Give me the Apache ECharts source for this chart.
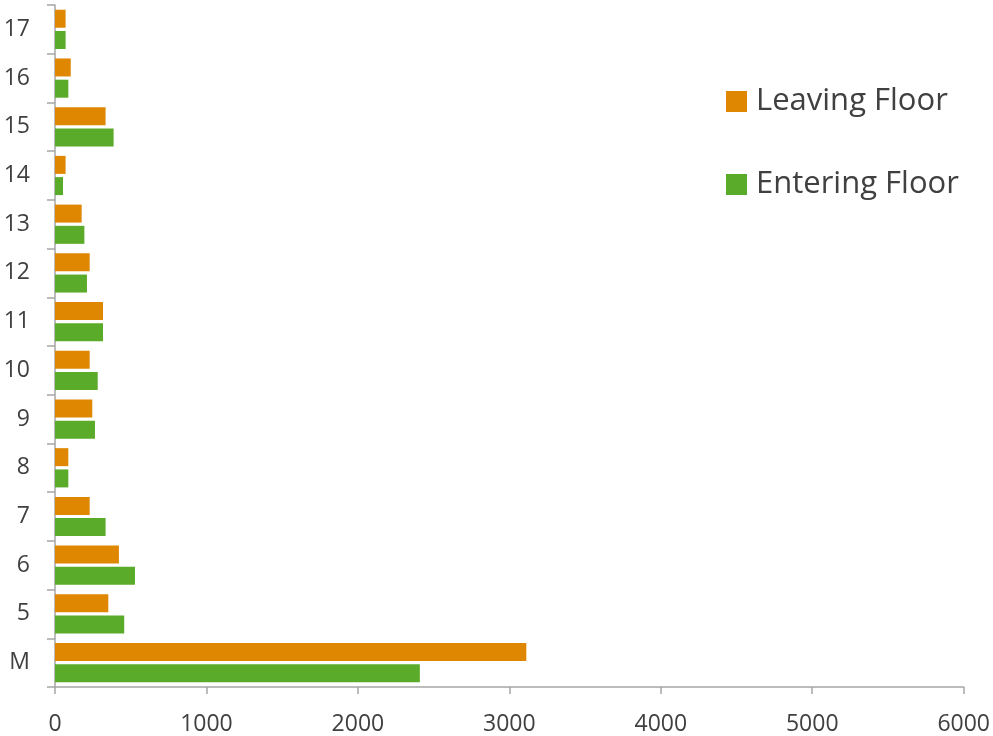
<!DOCTYPE html>
<html>
<head>
<meta charset="utf-8">
<title>Floor Traffic</title>
<script src="https://cdn.jsdelivr.net/npm/echarts@6/dist/echarts.min.js"></script>
<style>
  html, body { margin: 0; padding: 0; background: #ffffff; }
  #chart { width: 993px; height: 736px; }
</style>
</head>
<body>
<div id="chart"></div>
<script>
// Floors, bottom to top
const floors = ['M', '5', '6', '7', '8', '9', '10', '11', '12', '13', '14', '15', '16', '17'];
// Trips counted per floor
const leavingFloor  = [3112, 352, 422, 229, 88, 246, 229, 317, 229, 176, 70, 334, 104, 70];
const enteringFloor = [2409, 457, 528, 334, 88, 264, 282, 317, 211, 194, 53, 387, 88, 70];
// Value axis range
const xMin = 0, xMax = 6000, xStep = 1000;

const textColor = '#404040';
const lineColor = '#a6a6a6';
const font = '"Open Sans", "Liberation Sans", sans-serif';

const chart = echarts.init(document.getElementById('chart'));
chart.setOption({
  animation: false,
  grid: { left: 55, right: 28, top: 5, bottom: 47, containLabel: false },
  legend: {
    orient: 'vertical',
    left: 726,
    top: 86,
    padding: 0,
    itemWidth: 21,
    itemHeight: 21,
    itemGap: 52,
    icon: 'rect',
    data: ['Leaving Floor', 'Entering Floor'],
    textStyle: { fontSize: 31, color: textColor, fontFamily: font, padding: [0, 0, 0, 4] }
  },
  xAxis: {
    type: 'value',
    min: xMin, max: xMax, interval: xStep,
    splitLine: { show: false },
    axisLine: { show: true, lineStyle: { color: lineColor, width: 1.5 } },
    axisTick: { show: true, length: 7, lineStyle: { color: lineColor, width: 1.5 } },
    axisLabel: { fontSize: 23, color: textColor, fontFamily: font, margin: 26, formatter: (v) => String(v) }
  },
  yAxis: {
    type: 'category',
    data: floors,
    axisLine: { show: true, lineStyle: { color: lineColor, width: 1.5 } },
    axisTick: { show: true, length: 8, lineStyle: { color: lineColor, width: 1.5 } },
    axisLabel: { fontSize: 23, color: textColor, fontFamily: font, margin: 25 }
  },
  series: [
    {
      name: 'Leaving Floor',
      type: 'bar',
      data: leavingFloor,
      barWidth: 18,
      barGap: '18%',
      itemStyle: { color: '#df8700' }
    },
    {
      name: 'Entering Floor',
      type: 'bar',
      data: enteringFloor,
      barWidth: 18,
      barGap: '18%',
      itemStyle: { color: '#5aab29' }
    }
  ]
});
</script>
</body>
</html>
